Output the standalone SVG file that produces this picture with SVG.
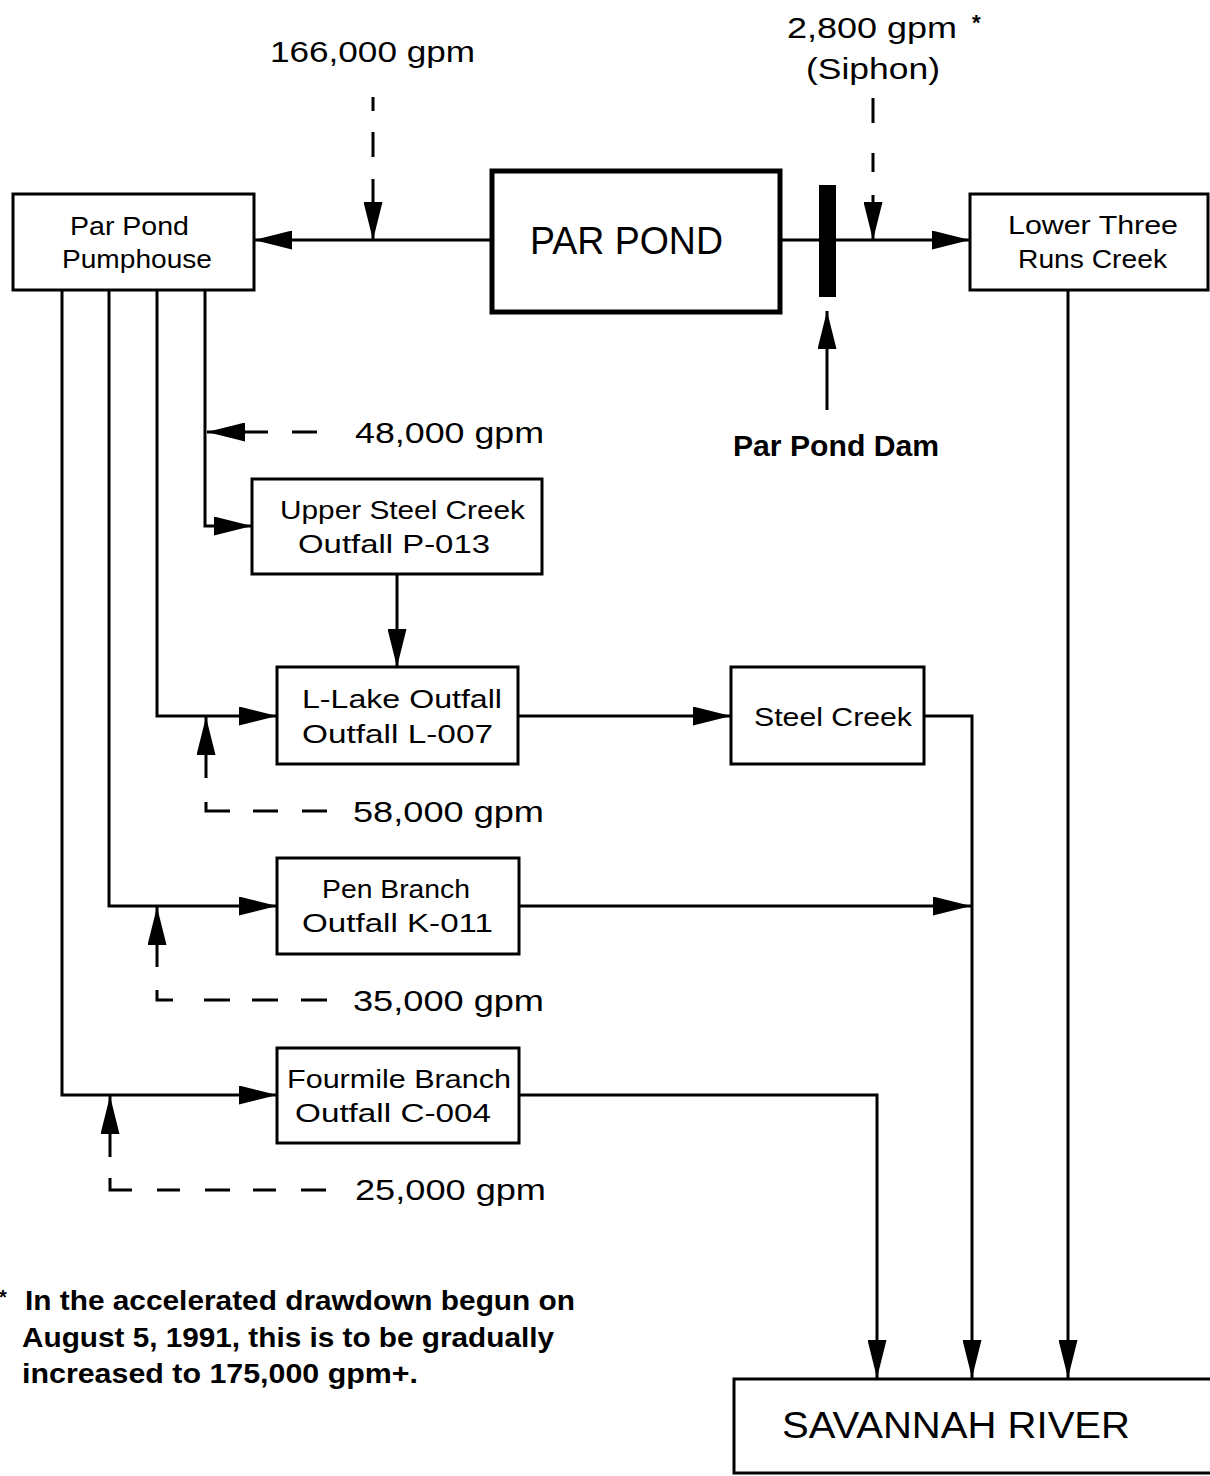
<svg xmlns="http://www.w3.org/2000/svg" width="1210" height="1476" viewBox="0 0 1210 1476">
<style>
.bg{fill:#fff}
.box{fill:#fff;stroke:#000;stroke-width:3}
.thick{fill:#fff;stroke:#000;stroke-width:5}
.ln{fill:none;stroke:#000;stroke-width:3}
.arr{marker-end:url(#ah)}
.t{font-family:"Liberation Sans",Arial,sans-serif;fill:#000}
.n{font-size:25px}
.q{font-size:29px}
.b{font-weight:bold}
</style>
<defs>
<marker id="ah" markerUnits="userSpaceOnUse" viewBox="0 0 38 19" markerWidth="38" markerHeight="19" refX="38" refY="9.5" orient="auto">
<path d="M0,0 L38,9.5 L0,19 z" fill="#000"/>
</marker>
</defs>
<rect class="bg" x="0" y="0" width="1210" height="1476"/>
<g id="connectors">
<path class="ln arr" d="M490,240 H254"/>
<path class="ln arr" d="M373,97 V240" stroke-dasharray="14 21 25 22 200"/>
<path class="ln arr" d="M781,240 H970"/>
<path class="ln arr" d="M873,98 V240" stroke-dasharray="25 30 19 23 200"/>
<path class="ln arr" d="M827,410 V311"/>
<path class="ln arr" d="M205,290 V526 H252"/>
<path class="ln arr" d="M317,432 H207" stroke-dasharray="25 24 200"/>
<path class="ln arr" d="M397,574 V667"/>
<path class="ln arr" d="M157,290 V716 H277"/>
<path class="ln arr" d="M327,811 H206 V717" stroke-dasharray="25 24 25 23 33 24 300"/>
<path class="ln arr" d="M518,716 H731"/>
<path class="ln arr" d="M924,716 H972 V1378"/>
<path class="ln arr" d="M109,290 V906 H277"/>
<path class="ln arr" d="M519,906 H971"/>
<path class="ln arr" d="M327,1000 H157 V907" stroke-dasharray="26 23 26 22 26 31 26 23 300"/>
<path class="ln arr" d="M62,290 V1095 H277"/>
<path class="ln arr" d="M326,1190 H110 V1096" stroke-dasharray="25 25 23 23 25 25 23 25 34 21 300"/>
<path class="ln arr" d="M519,1095 H877 V1378"/>
<path class="ln arr" d="M1068,290 V1378"/>
</g>
<g id="flow-166000">
<text class="t q" x="270" y="62" textLength="205" lengthAdjust="spacingAndGlyphs">166,000 gpm</text>
</g>
<g id="flow-siphon">
<text class="t q" x="787" y="38" textLength="170" lengthAdjust="spacingAndGlyphs">2,800 gpm</text>
<text class="t b" x="972" y="30" font-size="22">*</text>
<text class="t q" x="806" y="79" textLength="134" lengthAdjust="spacingAndGlyphs">(Siphon)</text>
</g>
<g id="pumphouse">
<rect class="box" x="13" y="194" width="241" height="96"/>
<text class="t n" x="70" y="235" textLength="119" lengthAdjust="spacingAndGlyphs">Par Pond</text>
<text class="t n" x="62" y="268" textLength="150" lengthAdjust="spacingAndGlyphs">Pumphouse</text>
</g>
<g id="par-pond">
<rect class="thick" x="492" y="171" width="288" height="141"/>
<text class="t" x="530" y="254" font-size="38" textLength="193" lengthAdjust="spacingAndGlyphs">PAR POND</text>
</g>
<g id="dam">
<rect x="819" y="185" width="17" height="112" fill="#000"/>
<text class="t b" x="733" y="456" font-size="30" textLength="206" lengthAdjust="spacingAndGlyphs">Par Pond Dam</text>
</g>
<g id="lower-three-runs">
<rect class="box" x="970" y="194" width="238" height="96"/>
<text class="t n" x="1008" y="234" textLength="170" lengthAdjust="spacingAndGlyphs">Lower Three</text>
<text class="t n" x="1018" y="268" textLength="149" lengthAdjust="spacingAndGlyphs">Runs Creek</text>
</g>
<g id="flow-48000">
<text class="t q" x="355" y="443" textLength="189" lengthAdjust="spacingAndGlyphs">48,000 gpm</text>
</g>
<g id="upper-steel-creek">
<rect class="box" x="252" y="479" width="290" height="95"/>
<text class="t n" x="280" y="519" textLength="245" lengthAdjust="spacingAndGlyphs">Upper Steel Creek</text>
<text class="t n" x="298" y="553" textLength="192" lengthAdjust="spacingAndGlyphs">Outfall P-013</text>
</g>
<g id="l-lake">
<rect class="box" x="277" y="667" width="241" height="97"/>
<text class="t n" x="302" y="708" textLength="200" lengthAdjust="spacingAndGlyphs">L-Lake Outfall</text>
<text class="t n" x="302" y="743" textLength="191" lengthAdjust="spacingAndGlyphs">Outfall L-007</text>
</g>
<g id="steel-creek">
<rect class="box" x="731" y="667" width="193" height="97"/>
<text class="t n" x="754" y="726" textLength="158" lengthAdjust="spacingAndGlyphs">Steel Creek</text>
</g>
<g id="flow-58000">
<text class="t q" x="353" y="822" textLength="191" lengthAdjust="spacingAndGlyphs">58,000 gpm</text>
</g>
<g id="pen-branch">
<rect class="box" x="277" y="858" width="242" height="96"/>
<text class="t n" x="322" y="898" textLength="148" lengthAdjust="spacingAndGlyphs">Pen Branch</text>
<text class="t n" x="302" y="932" textLength="191" lengthAdjust="spacingAndGlyphs">Outfall K-011</text>
</g>
<g id="flow-35000">
<text class="t q" x="353" y="1011" textLength="191" lengthAdjust="spacingAndGlyphs">35,000 gpm</text>
</g>
<g id="fourmile-branch">
<rect class="box" x="277" y="1048" width="242" height="95"/>
<text class="t n" x="287" y="1088" textLength="224" lengthAdjust="spacingAndGlyphs">Fourmile Branch</text>
<text class="t n" x="295" y="1122" textLength="196" lengthAdjust="spacingAndGlyphs">Outfall C-004</text>
</g>
<g id="flow-25000">
<text class="t q" x="355" y="1200" textLength="191" lengthAdjust="spacingAndGlyphs">25,000 gpm</text>
</g>
<g id="savannah-river">
<rect class="box" x="734" y="1379" width="480" height="94" stroke-width="4"/>
<text class="t" x="782" y="1438" font-size="36" textLength="348" lengthAdjust="spacingAndGlyphs">SAVANNAH RIVER</text>
</g>
<g id="footnote">
<text class="t b" x="-1" y="1304" font-size="20">*</text>
<text class="t b" x="25" y="1310" font-size="27" textLength="550" lengthAdjust="spacingAndGlyphs">In the accelerated drawdown begun on</text>
<text class="t b" x="22" y="1347" font-size="27" textLength="532" lengthAdjust="spacingAndGlyphs">August 5, 1991, this is to be gradually</text>
<text class="t b" x="22" y="1383" font-size="27" textLength="396" lengthAdjust="spacingAndGlyphs">increased to 175,000 gpm+.</text>
</g>
</svg>
